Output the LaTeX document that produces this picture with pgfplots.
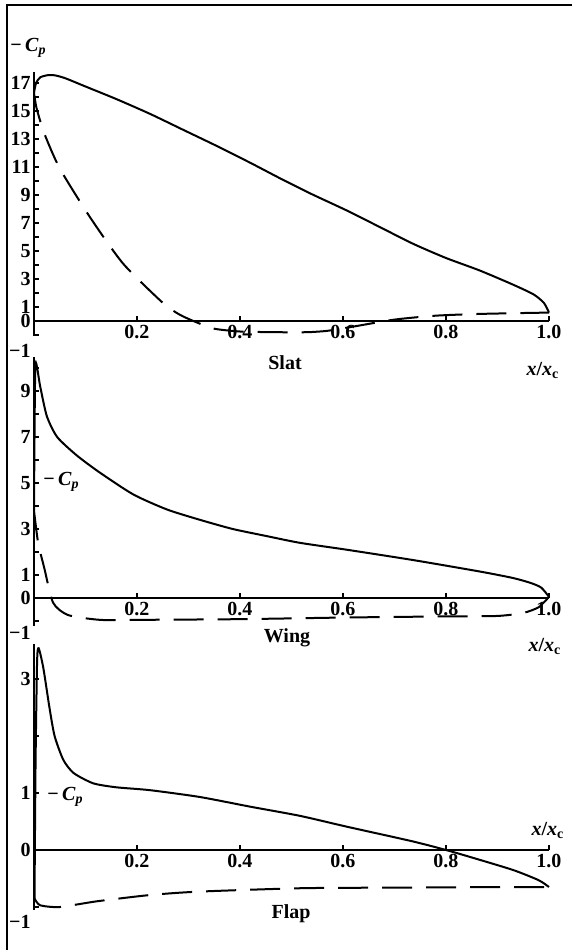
\documentclass[border=0pt]{standalone}
\usepackage{fontspec}
\setmainfont{Liberation Serif}
\usepackage{pgfplots}
\pgfplotsset{compat=1.18}

\pgfplotsset{
  panel/.style={
    scale only axis,
    width=257.5pt,
    xmin=0, xmax=1,
    axis x line=middle,
    axis y line=left,
    axis line style={-, line width=0.9pt},
    hide obscured x ticks=false,
    hide obscured y ticks=false,
    xtick={0.2,0.4,0.6,0.8,1.0},
    xticklabels={0.2,0.4,0.6,0.8,1.0},
    tick align=inside,
    major tick length=2.6pt,
    minor tick length=2.6pt,
    tick style={black, line width=0.7pt},
    ticklabel style={font=\fontsize{10}{12}\selectfont\bfseries},
    yticklabel style={inner xsep=1.5pt},
    xticklabel style={inner ysep=2pt},
    clip=false,
  },
  solid curve/.style={black, line width=1pt, smooth, tension=0.4},
  dashed curve/.style={black, line width=1pt, smooth, tension=0.4, dash pattern=on 15pt off 7pt},
}
\tikzset{lowlabel/.style={anchor=east, inner xsep=1.5pt, font=\fontsize{10}{12}\selectfont\bfseries}}

\newcommand{\mCp}{−\,\textit{C}\textsubscript{\textit{p}}}
\newcommand{\xxc}{\textit{x}/\textit{x}\textsubscript{c}}

\begin{document}
\begin{tikzpicture}
\useasboundingbox (0,0) rectangle (286pt,475pt);

% Slat
\begin{axis}[panel, at={(17pt,306.8pt)}, anchor=south west,
  height=132.3pt, ymin=-1.1, ymax=17.8,
  ytick={-1,0,1,3,5,7,9,11,13,15,17},
  yticklabels={,0,1,3,5,7,9,11,13,15,17},
  minor ytick={2,4,6,8,10,12,14,16}]
\addplot[solid curve] coordinates {
 (0,16.3) (0.004,17.0) (0.012,17.4) (0.025,17.55) (0.04,17.55) (0.06,17.35)
 (0.1,16.75) (0.16,15.85) (0.225,14.8) (0.29,13.65) (0.355,12.5) (0.42,11.3)
 (0.48,10.15) (0.54,9.05) (0.607,7.9) (0.672,6.7) (0.737,5.5) (0.80,4.5)
 (0.866,3.6) (0.93,2.6) (0.97,1.9) (0.99,1.3) (1.0,0.6)
};
\addplot[dashed curve] coordinates {
 (0,16.3) (0.005,15.2) (0.02,13.4) (0.05,10.9) (0.109,7.4) (0.173,4.1)
 (0.25,1.3) (0.283,0.45) (0.316,-0.1) (0.35,-0.55) (0.4,-0.75) (0.47,-0.8)
 (0.53,-0.8) (0.57,-0.7) (0.62,-0.4) (0.7,0.1) (0.78,0.38) (0.86,0.5)
 (0.95,0.57) (1.0,0.6)
};
\node[lowlabel, yshift=-8pt] at (axis cs:0,-1) {−1};
\end{axis}

% Wing
\begin{axis}[panel, at={(17pt,162.2pt)}, anchor=south west,
  height=134.55pt, ymin=-1.2, ymax=10.5,
  ytick={-1,0,1,3,5,7,9},
  yticklabels={,0,1,3,5,7,9},
  minor ytick={2,4,6,8,10}]
\addplot[solid curve] coordinates {
 (0,3.8) (0.001,7) (0.003,10.2) (0.012,9.2) (0.025,7.9) (0.045,7.0)
 (0.083,6.2) (0.128,5.45) (0.193,4.5) (0.258,3.85) (0.322,3.4) (0.386,3.0)
 (0.45,2.7) (0.516,2.4) (0.607,2.1) (0.736,1.65) (0.866,1.15) (0.93,0.87)
 (0.965,0.65) (0.985,0.45) (1.0,0.05)
};
\addplot[dashed curve] coordinates {
 (0,3.8) (0.008,2.4) (0.02,1.3) (0.037,-0.2) (0.066,-0.74) (0.128,-0.95)
 (0.2,-0.95) (0.4,-0.92) (0.6,-0.85) (0.8,-0.8) (0.9,-0.78) (0.95,-0.65)
 (0.98,-0.4) (1.0,0.05)
};
\node[lowlabel, yshift=-6pt] at (axis cs:0,-1) {−1};
\end{axis}

% Flap
\begin{axis}[panel, at={(17pt,20.07pt)}, anchor=south west,
  height=133.1pt, ymin=-1.05, ymax=3.62,
  ytick={-1,0,1,3},
  yticklabels={,0,1,3},
  minor ytick={2}]
\addplot[solid curve] coordinates {
 (0.001,-0.85) (0.003,1.5) (0.006,3.3) (0.009,3.54) (0.018,3.2) (0.03,2.5)
 (0.04,2.0) (0.057,1.58) (0.077,1.35) (0.115,1.17) (0.16,1.1) (0.225,1.05)
 (0.322,0.93) (0.42,0.76) (0.516,0.6) (0.607,0.41) (0.736,0.15) (0.80,0.0)
 (0.846,-0.12) (0.93,-0.35) (0.98,-0.53) (1.0,-0.65)
};
\addplot[dashed curve] coordinates {
 (0.001,-0.85) (0.012,-0.97) (0.05,-1.0) (0.122,-0.9) (0.225,-0.79)
 (0.32,-0.73) (0.52,-0.67) (0.7,-0.66) (0.9,-0.65) (1.0,-0.65)
};
\node[lowlabel, yshift=-7.5pt] at (axis cs:0,-1) {−1};
\end{axis}

% labels
\begin{scope}[every node/.style={font=\fontsize{10}{12}\selectfont\bfseries, inner sep=0pt}]
\node[anchor=west] at (5pt,451pt) {\mCp};
\node at (142.5pt,293.5pt) {Slat};
\node at (271.5pt,290pt) {\xxc};
\node[anchor=west] at (21.5pt,234pt) {\mCp};
\node at (143.5pt,156pt) {Wing};
\node at (272.5pt,152pt) {\xxc};
\node[anchor=west] at (23.5pt,76.5pt) {\mCp};
\node at (145.5pt,18pt) {Flap};
\node at (274pt,60pt) {\xxc};
\end{scope}

% frame
\draw[line width=1pt] (3.5pt,0) -- (3.5pt,472.5pt) -- (286pt,472.5pt);
\end{tikzpicture}
\end{document}
